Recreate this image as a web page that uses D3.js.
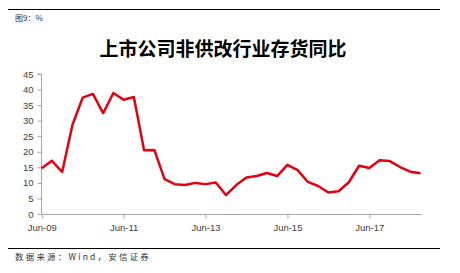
<!DOCTYPE html>
<html>
<head>
<meta charset="utf-8">
<script src="https://cdn.jsdelivr.net/npm/d3@7/dist/d3.min.js"></script>
<style>
  body { margin: 0; background: #fff; }
  svg text { font-family: "Liberation Sans", "Open Sans", sans-serif; }
  .cjk { font-family: "Noto Sans CJK SC", sans-serif; }
</style>
</head>
<body>
<svg id="chart" width="460" height="273"></svg>
<script>
// quarterly, Jun-09 .. Sep-18
var quarters = [];
var values = [14.7, 17.1, 13.5, 28.6, 37.4, 38.6, 32.4, 38.9, 36.7, 37.6,
              20.5, 20.6, 11.2, 9.6, 9.3, 10.0, 9.6, 10.1, 6.1, 9.3,
              11.7, 12.2, 13.2, 12.2, 15.8, 14.1, 10.3, 9.0, 6.9, 7.3,
              10.2, 15.5, 14.8, 17.3, 17.0, 15.1, 13.6, 13.1];
var tickLabels = ["Jun-09", "Jun-11", "Jun-13", "Jun-15", "Jun-17"];
var yTicks = [0, 5, 10, 15, 20, 25, 30, 35, 40, 45];
var chartTitle = "上市公司非供改行业存货同比";
var figLabel = "图9：%";
var sourceLabel = "数据来源：Wind，安信证券";

var months = ["Mar", "Jun", "Sep", "Dec"];
values.forEach(function(v, i) {
  var q = i + 1; // start at Jun
  var yr = 9 + Math.floor(q / 4);
  quarters.push(months[q % 4] + "-" + (yr < 10 ? "0" + yr : yr));
});

var svg = d3.select("#chart");

// rules on top and bottom
svg.append("line").attr("x1", 8).attr("x2", 440).attr("y1", 9.5).attr("y2", 9.5)
  .attr("stroke", "#000").attr("stroke-width", 1);
svg.append("line").attr("x1", 8).attr("x2", 440).attr("y1", 248.5).attr("y2", 248.5)
  .attr("stroke", "#000").attr("stroke-width", 1);

svg.append("text").attr("class", "cjk").attr("x", 15).attr("y", 21)
  .attr("font-size", 8).attr("fill", "#333").text(figLabel);
svg.append("text").attr("class", "cjk").attr("x", 15).attr("y", 260)
  .attr("font-size", 8.5).attr("fill", "#333").attr("letter-spacing", 2.2).text(sourceLabel);

svg.append("text").attr("class", "cjk").attr("x", 223).attr("y", 56)
  .attr("text-anchor", "middle").attr("font-size", 19).attr("font-weight", "bold")
  .attr("fill", "#000").text(chartTitle);

var x = d3.scalePoint().domain(quarters).range([41.7, 420.5]);
var y = d3.scaleLinear().domain([0, 45]).range([214, 74]);

// y axis
var yAxis = svg.append("g").attr("transform", "translate(41.5,0)")
  .call(d3.axisLeft(y).tickValues(yTicks).tickSize(4).tickPadding(4));
yAxis.select(".domain").attr("stroke", "#a6a6a6").attr("d", "M-4," + y(45) + "H0V" + y(0));
yAxis.selectAll(".tick line").attr("stroke", "#a6a6a6");
yAxis.selectAll(".tick text").attr("fill", "#404040").attr("font-size", 9.5)
  .style("font-family", "'Liberation Sans', sans-serif");

// x axis
var xAxis = svg.append("g").attr("transform", "translate(0,214.5)")
  .call(d3.axisBottom(x).tickValues(tickLabels).tickSize(4).tickPadding(6));
xAxis.select(".domain").attr("stroke", "#a6a6a6").attr("d", "M41.5,0H421.7");
xAxis.selectAll(".tick line").attr("stroke", "#a6a6a6");
xAxis.selectAll(".tick text").attr("fill", "#404040").attr("font-size", 9.5)
  .style("font-family", "'Liberation Sans', sans-serif");

// series line
var line = d3.line()
  .x(function(d, i) { return x(quarters[i]); })
  .y(function(d) { return y(d); });

svg.append("path").datum(values)
  .attr("d", line)
  .attr("fill", "none")
  .attr("stroke", "#e3000f")
  .attr("stroke-width", 2.5)
  .attr("stroke-linejoin", "round");
</script>
</body>
</html>
